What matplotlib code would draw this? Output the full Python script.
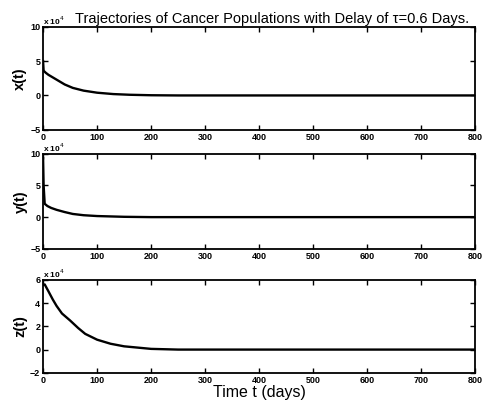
import numpy as np
import matplotlib.pyplot as plt

plt.rcParams['font.family'] = ['Liberation Sans', 'DejaVu Sans']

# sampled trajectories (units of 1e4 cells)
t_x = [0, 1, 5, 10, 25, 40, 55, 75, 100, 130, 160, 200, 250, 400, 600, 800]
x_t = [5.0, 3.6, 3.3, 3.0, 2.3, 1.6, 1.1, 0.7, 0.4, 0.2, 0.1, 0.03, 0.0, 0.0, 0.0, 0.0]

t_y = [0, 1, 3, 8, 15, 25, 40, 55, 75, 100, 150, 200, 400, 600, 800]
y_t = [9.3, 5.0, 2.1, 1.75, 1.45, 1.15, 0.8, 0.5, 0.3, 0.17, 0.05, 0.0, 0.0, 0.0, 0.0]

t_z = [0, 3, 10, 18, 25, 35, 50, 65, 78, 100, 125, 150, 200, 250, 400, 600, 800]
z_t = [5.55, 5.6, 5.0, 4.3, 3.75, 3.1, 2.5, 1.85, 1.35, 0.85, 0.5, 0.28, 0.06, 0.0, 0.0, 0.0, 0.0]

series = [(t_x, x_t, 'x(t)', (-5, 10), [-5, 0, 5, 10]),
          (t_y, y_t, 'y(t)', (-5, 10), [-5, 0, 5, 10]),
          (t_z, z_t, 'z(t)', (-2, 6), [-2, 0, 2, 4, 6])]

# [left, bottom, width, height] for each panel
boxes = [[0.089, 0.685, 0.893, 0.250],
         [0.089, 0.396, 0.893, 0.231],
         [0.089, 0.095, 0.893, 0.226]]

fig = plt.figure(figsize=(4.84, 4.12), dpi=100)
for (tt, vals, lab, lims, yt), box in zip(series, boxes):
    ax = fig.add_axes(box)
    ax.plot(tt, vals, 'k-', lw=1.7)
    ax.set_xlim(0, 800)
    ax.set_ylim(*lims)
    ax.set_yticks(yt)
    ax.set_xticks(range(0, 801, 100))
    ax.tick_params(direction='in', top=True, right=True, length=3.5, width=1.0,
                   labelsize=6.5, pad=2)
    for tl in ax.get_xticklabels() + ax.get_yticklabels():
        tl.set_fontweight('bold')
    for sp in ax.spines.values():
        sp.set_linewidth(1.3)
    ax.set_ylabel(lab, fontsize=10.5, fontweight='bold', labelpad=2)
    ax.text(0.0, 1.02, r'x 10$^4$', transform=ax.transAxes, fontsize=6, fontweight='bold')
    if lab == 'x(t)':
        ax.set_title('Trajectories of Cancer Populations with Delay of τ=0.6 Days.',
                     fontsize=10.5, pad=3, x=0.53)
    if lab == 'z(t)':
        ax.set_xlabel('Time t (days)', fontsize=11.5, labelpad=0)

fig.savefig('out.png', dpi=100)
